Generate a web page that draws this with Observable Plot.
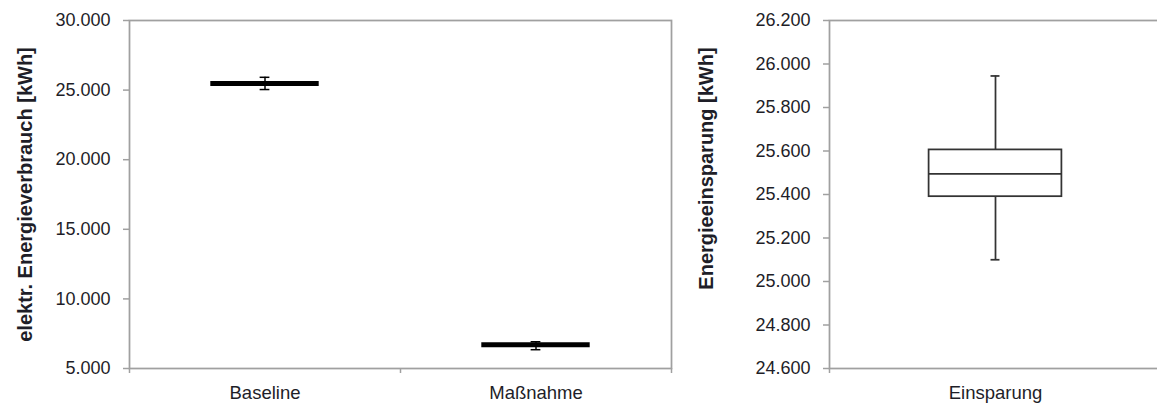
<!DOCTYPE html>
<html>
<head>
<meta charset="utf-8">
<script src="https://cdn.jsdelivr.net/npm/d3@7"></script>
<script src="https://cdn.jsdelivr.net/npm/@observablehq/plot@0.6"></script>
<style>
html, body { margin: 0; padding: 0; background: #fff; overflow: hidden; }
#wrap { display: flex; width: 1157px; height: 403px; overflow: hidden; }
#wrap svg { flex: none; }
</style>
</head>
<body>
<div id="wrap"></div>
<script>
// ---- Left panel data ----
const categories = ["Baseline", "Maßnahme"];
const means = [25480, 6700];
const errLow = [25040, 6350];
const errHigh = [25920, 6920];
const leftTicks = [5000, 10000, 15000, 20000, 25000, 30000];
const leftTitle = "elektr. Energieverbrauch [kWh]";

// ---- Right panel data ----
const boxCategories = ["Einsparung"];
const whiskerLow = [25100];
const quart1 = [25390];
const medians = [25495];
const quart3 = [25605];
const whiskerHigh = [25945];
const rightTicks = [24600, 24800, 25000, 25200, 25400, 25600, 25800, 26000, 26200];
const rightTitle = "Energieeinsparung [kWh]";

const fmt = d3.formatLocale({decimal: ",", thousands: ".", grouping: [3], currency: ["", " €"]}).format(",d");

const FONT = "'Liberation Sans', Arial, sans-serif";
const TXT = "#1e1e28";
const GRID = "#a0a0a0";

const leftData = categories.map((c, i) => ({c, i, mean: means[i], lo: errLow[i], hi: errHigh[i]}));
const boxData = boxCategories.map((c, i) => ({c, i, lo: whiskerLow[i], q1: quart1[i], med: medians[i], q3: quart3[i], hi: whiskerHigh[i]}));

const common = {
  height: 403, marginTop: 20, marginBottom: 35,
  style: {fontFamily: FONT, fontSize: "18px", color: TXT, background: "white", overflow: "visible"}
};

const left = Plot.plot({
  ...common,
  width: 680, marginLeft: 129, marginRight: 9,
  x: {domain: [0, categories.length]},
  y: {domain: [5000, 30000]},
  marks: [
    Plot.frame({stroke: GRID, strokeWidth: 1.75}),
    Plot.axisY({ticks: leftTicks, tickFormat: fmt, tickSize: 6, tickPadding: 13, stroke: GRID, strokeWidth: 1.5, fill: TXT, label: null}),
    Plot.axisX({ticks: d3.range(categories.length + 1), tickFormat: () => "", tickSize: 5, stroke: GRID, strokeWidth: 1.5, label: null}),
    Plot.axisX({ticks: leftData.map(d => d.i + 0.5), tickFormat: v => categories[Math.floor(v)], tickSize: 0, tickPadding: 17, fontSize: 18.5, fill: TXT, label: null}),
    Plot.ruleX(leftData, {x: d => d.i + 0.5, y1: "lo", y2: "hi", stroke: "black", strokeWidth: 1.5}),
    Plot.ruleY(leftData, {y: "lo", x1: d => d.i + 0.5 - 0.018, x2: d => d.i + 0.5 + 0.018, stroke: "black", strokeWidth: 1.5}),
    Plot.ruleY(leftData, {y: "hi", x1: d => d.i + 0.5 - 0.018, x2: d => d.i + 0.5 + 0.018, stroke: "black", strokeWidth: 1.5}),
    Plot.ruleY(leftData, {y: "mean", x1: d => d.i + 0.3, x2: d => d.i + 0.7, stroke: "black", strokeWidth: 5}),
    Plot.text([leftTitle], {text: d => d, frameAnchor: "left", textAnchor: "middle", lineAnchor: "middle", rotate: -90, dx: -104, dy: 0, fontWeight: "bold", fontSize: 20, fill: TXT})
  ]
});

const right = Plot.plot({
  ...common,
  width: 481, marginLeft: 149, marginRight: 0,
  x: {domain: [0, boxCategories.length]},
  y: {domain: [24600, 26200]},
  marks: [
    Plot.frame({stroke: GRID, strokeWidth: 1.75}),
    Plot.axisY({ticks: rightTicks, tickFormat: fmt, tickSize: 6, tickPadding: 13, stroke: GRID, strokeWidth: 1.5, fill: TXT, label: null}),
    Plot.axisX({ticks: d3.range(boxCategories.length + 1), tickFormat: () => "", tickSize: 5, stroke: GRID, strokeWidth: 1.5, label: null}),
    Plot.axisX({ticks: boxData.map(d => d.i + 0.5), tickFormat: v => boxCategories[Math.floor(v)], tickSize: 0, tickPadding: 17, fontSize: 18.5, fill: TXT, label: null}),
    Plot.ruleX(boxData, {x: d => d.i + 0.5, y1: "q3", y2: "hi", stroke: "#333", strokeWidth: 1.75}),
    Plot.ruleX(boxData, {x: d => d.i + 0.5, y1: "lo", y2: "q1", stroke: "#333", strokeWidth: 1.75}),
    Plot.ruleY(boxData, {y: "hi", x1: d => d.i + 0.5 - 0.0135, x2: d => d.i + 0.5 + 0.0135, stroke: "#333", strokeWidth: 1.75}),
    Plot.ruleY(boxData, {y: "lo", x1: d => d.i + 0.5 - 0.0135, x2: d => d.i + 0.5 + 0.0135, stroke: "#333", strokeWidth: 1.75}),
    Plot.rect(boxData, {x1: d => d.i + 0.3, x2: d => d.i + 0.7, y1: "q1", y2: "q3", fill: "white", stroke: "#333", strokeWidth: 1.75}),
    Plot.ruleY(boxData, {y: "med", x1: d => d.i + 0.3, x2: d => d.i + 0.7, stroke: "#333", strokeWidth: 1.75}),
    Plot.text([rightTitle], {text: d => d, frameAnchor: "left", textAnchor: "middle", lineAnchor: "middle", rotate: -90, dx: -123, dy: -26, fontWeight: "bold", fontSize: 20, fill: TXT})
  ]
});

document.getElementById("wrap").append(left, right);
</script>
</body>
</html>
